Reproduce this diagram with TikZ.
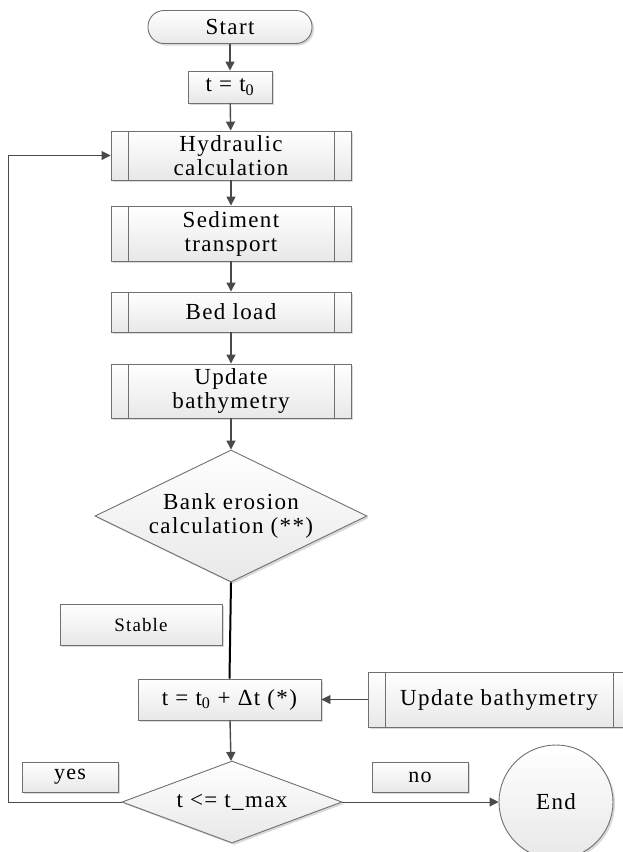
\documentclass[tikz,border=0pt]{standalone}
\usepackage{fontspec}
\setmainfont{Liberation Serif}[LetterSpace=6]
\usetikzlibrary{shapes.geometric,arrows.meta,shadows}
\definecolor{edgegray}{HTML}{707070}
\definecolor{arrowgray}{HTML}{4A4A4A}
\tikzset{
  base/.style={draw=edgegray, line width=0.9pt, top color=white, bottom color=black!9,
    drop shadow={shadow xshift=2pt, shadow yshift=-2pt, opacity=0.25, fill=black!60},
    inner sep=0pt, align=center, font=\fontsize{23}{24}\selectfont},
  procbox/.style={base, rectangle},
  subproc/.style={base, rectangle, path picture={
      \draw[edgegray, line width=0.9pt] ([xshift=17pt]path picture bounding box.north west) -- ([xshift=17pt]path picture bounding box.south west);
      \draw[edgegray, line width=0.9pt] ([xshift=-17pt]path picture bounding box.north east) -- ([xshift=-17pt]path picture bounding box.south east);}},
  terminal/.style={base, rectangle, rounded corners=16pt},
  decision/.style={base, diamond},
  labelbox/.style={base, rectangle, font=\fontsize{22}{24}\selectfont},
  flow/.style={draw=arrowgray, line width=1.4pt, -{Triangle[length=9pt,width=9pt]}},
  thinflow/.style={draw=arrowgray, line width=0.9pt, -{Triangle[length=9pt,width=9pt]}},
}
\begin{document}
\begin{tikzpicture}[x=1pt,y=-1pt]
\useasboundingbox (0,0) rectangle (623,852);
\node[terminal, minimum width=164pt, minimum height=33pt] (start) at (230,27) {Start};
\node[procbox, minimum width=84pt, minimum height=32pt] (t0) at (230,87) {t = t\textsubscript{0}};
\node[subproc, minimum width=240pt, minimum height=49pt] (hyd) at (231,155.5) {Hydraulic\\calculation};
\node[subproc, minimum width=240pt, minimum height=55pt] (sed) at (231,233.5) {Sediment\\transport};
\node[subproc, minimum width=240pt, minimum height=40pt] (bed) at (231,312) {Bed load};
\node[subproc, minimum width=240pt, minimum height=54pt] (upd) at (231,391) {Update\\bathymetry};
\node[decision, aspect=2.06, minimum width=272pt, minimum height=132pt] (bank) at (231,516) {Bank erosion\\calculation (**)};
\node[labelbox, minimum width=162pt, minimum height=41pt, font=\fontsize{19}{21}\selectfont] (stable) at (141,624.5) {Stable};
\node[procbox, minimum width=183pt, minimum height=41pt] (tdt) at (229.5,699.5) {t = t\textsubscript{0} + Δt (*)};
\node[subproc, minimum width=262pt, minimum height=55pt] (upd2) at (499,699.5) {Update bathymetry};
\node[decision, aspect=2.7, minimum width=220pt, minimum height=82pt] (cond) at (232,802) {t <= t\_max};
\node[labelbox, minimum width=96pt, minimum height=30pt] (yes) at (70,777) {yes};
\node[labelbox, minimum width=96pt, minimum height=30pt] (no) at (420,777) {no};
\node[base, circle, minimum size=114pt] (end) at (556,802) {End};
\coordinate (loopb) at (8,802);
\coordinate (loopt) at (8,155.5);

\draw[flow] (start) -- (t0);
\draw[flow] (t0) -- (hyd);
\draw[flow] (hyd) -- (sed);
\draw[flow] (sed) -- (bed);
\draw[flow] (bed) -- (upd);
\draw[flow] (upd) -- (bank);
\draw[black, line width=2pt] (bank.south) -- (tdt.north);
\draw[thinflow] (upd2.west) -- (tdt.east);
\draw[flow] (tdt) -- (cond);
\draw[thinflow] (cond.east) -- (end.west);
\draw[thinflow] (cond.west) -- (loopb) -- (loopt) -- (hyd.west);
\end{tikzpicture}
\end{document}
